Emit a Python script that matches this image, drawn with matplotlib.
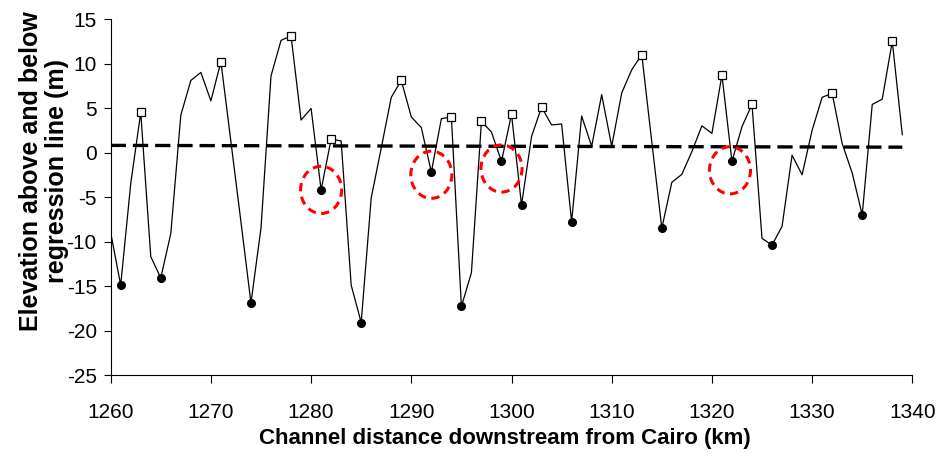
import numpy as np
import matplotlib
matplotlib.use("Agg")
import matplotlib.pyplot as plt
from matplotlib.patches import Ellipse

plt.rcParams["font.family"] = ["Liberation Sans", "DejaVu Sans"]
plt.rcParams["axes.unicode_minus"] = False
plt.rcParams["lines.scale_dashes"] = False

# channel distance (km) and elevation residual (m)
distance_km = list(range(1260, 1340))
elevation_m = [
    -9.0, -14.9, -3.5, 4.5, -11.7, -14.1, -9.1, 4.2, 8.1, 9.0,
    5.8, 10.2, 1.2, -7.8, -16.9, -8.5, 8.6, 12.6, 13.1, 3.65,
    4.95, -4.2, 1.5, 1.3, -14.9, -19.1, -5.1, 0.5, 6.2, 8.1,
    4.0, 2.8, -2.2, 3.8, 4.0, -17.3, -13.5, 3.5, 2.3, -1.0,
    4.3, -5.9, 1.8, 5.1, 3.1, 3.2, -7.8, 4.1, 0.7, 6.5,
    0.7, 6.7, 9.3, 11.0, 1.2, -8.5, -3.35, -2.45, 0.1, 3.0,
    2.15, 8.7, -1.0, 2.9, 5.4, -9.65, -10.4, -8.3, -0.3, -2.5,
    2.5, 6.2, 6.65, 1.0, -2.3, -7.0, 5.4, 6.0, 12.5, 2.0,
]

# local highs (open squares) and lows (filled circles)
peak_km = [1263, 1271, 1278, 1282, 1289, 1294, 1297, 1300, 1303, 1313, 1321, 1324, 1332, 1338]
trough_km = [1261, 1265, 1274, 1281, 1285, 1292, 1295, 1299, 1301, 1306, 1315, 1322, 1326, 1335]

# regression line end points
regress_x = [1260, 1339]
regress_y = [0.8, 0.6]

# highlighted lows (red dashed circles)
circle_x = [1281, 1292, 1299, 1321.8]
circle_y = [-4.2, -2.5, -1.8, -2.0]

elev = dict(zip(distance_km, elevation_m))

fig = plt.figure(figsize=(9.46, 4.57), dpi=100)
ax = fig.add_axes([0.117, 0.1794, 0.8474, 0.779])

ax.plot(regress_x, regress_y, color="black", lw=2.4, dashes=(11, 5),
        dash_capstyle="butt", zorder=1)
ax.plot(distance_km, elevation_m, color="black", lw=0.9, zorder=2)
ax.plot(peak_km, [elev[k] for k in peak_km], ls="none", marker="s", ms=6,
        mfc="white", mec="black", mew=0.9, zorder=3)
ax.plot(trough_km, [elev[k] for k in trough_km], ls="none", marker="o", ms=5.5,
        mfc="black", mec="black", zorder=3)

for cx, cy in zip(circle_x, circle_y):
    ax.add_patch(Ellipse((cx, cy), 4.1, 5.3, fill=False, ec="red", lw=2.2,
                         ls=(0, (6, 4)), zorder=4))

ax.set_xlim(1260, 1340)
ax.set_ylim(-25, 15)
ax.set_xticks(range(1260, 1341, 10))
ax.set_yticks(range(-25, 16, 5))
ax.tick_params(axis="x", direction="out", length=6, width=0.8, pad=14, labelsize=15)
ax.tick_params(axis="y", direction="out", length=5, width=0.8, pad=5, labelsize=15)
ax.spines["top"].set_visible(False)
ax.spines["right"].set_visible(False)

ax.set_xlabel("Channel distance downstream from Cairo (km)", fontsize=16,
              fontweight="bold")
ax.xaxis.set_label_coords(0.492, -0.149)
ax.set_ylabel("Elevation above and below\nregression line (m)", fontsize=18,
              fontweight="bold", linespacing=1.13)
ax.yaxis.set_label_coords(-0.052, 0.573)

fig.savefig("out.png", dpi=100)
